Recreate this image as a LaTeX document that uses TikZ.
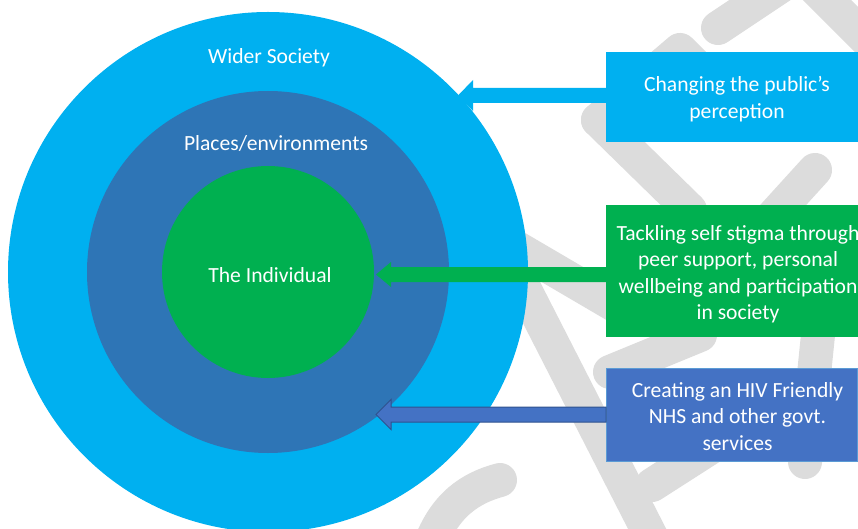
\documentclass[tikz,border=0pt]{standalone}
\usepackage{fontspec}
\setmainfont{Carlito}
\usetikzlibrary{calc}

\definecolor{skyfill}{HTML}{00B0F0}
\definecolor{placefill}{HTML}{2E75B6}
\definecolor{selffill}{HTML}{00B050}
\definecolor{nhsfill}{HTML}{4472C4}
\definecolor{nhsedge}{HTML}{2F528F}
\definecolor{nhsframe}{HTML}{5B9BD5}
\definecolor{wmgrey}{HTML}{DCDCDC}

% block arrow: tip coordinate, target box, half height of the head, style
\newcommand\blockarrow[4]{%
  \path[#4] (#1) -- ([xshift=15pt,yshift=#3]#1) -- ([xshift=15pt,yshift=7.5pt]#1)
    -- ([yshift=7.5pt]#1 -| #2.west) -- ([yshift=-7.5pt]#1 -| #2.west)
    -- ([xshift=15pt,yshift=-7.5pt]#1) -- ([xshift=15pt,yshift=-#3]#1) -- cycle;}

\begin{document}
\begin{tikzpicture}[x=1pt,y=-1pt,
  font=\fontsize{21.6}{26.5}\selectfont,
  wmstroke/.style={draw=wmgrey, line width=34pt, line cap=round, line join=round},
  ring/.style={circle, inner sep=0pt},
  lbl/.style={text=white, align=center, inner sep=0pt},
  goalbox/.style={inner sep=0pt, anchor=north west}]
\useasboundingbox (0,0) rectangle (858,529);
\clip (0,0) rectangle (858,529);

% faint background watermark strokes
\draw[wmstroke] (598,120) -- (680,50) -- (730,100);
\draw[wmstroke] (598,120) -- (690,210);
\draw[wmstroke] (790,-20) -- (718,28);
\draw[wmstroke] (815,-12) -- (875,48);
\draw[wmstroke] (815,170) -- (765,225);
\draw[wmstroke] (512,245) -- (640,320);
\draw[wmstroke] (520,280) -- (663,560);
\draw[wmstroke] (652,485) -- (730,435);
\draw[wmstroke] (430,545) .. controls (445,505) and (470,488) .. (500,480);
\draw[wmstroke] (818,335) -- (805,462);
\draw[wmstroke] (700,335) -- (610,372);

% concentric levels
\node[ring, fill=skyfill, minimum size=520pt] (society) at (268,272) {};
\node[ring, fill=placefill, minimum size=362pt] (places) at (268,272) {};
\node[ring, fill=selffill, minimum size=212pt] (self) at (268,272) {};

\node[lbl] (societylbl) at (269,58) {Wider Society};
\node[lbl] (placeslbl) at (276,143) {Places/environments};
\node[lbl] (selflbl) at (270,275) {The Individual};

% goal boxes (shapes only; text placed below)
\node[goalbox, fill=skyfill, minimum width=264pt, minimum height=90pt] (pubbox) at (606,52) {};
\node[goalbox, fill=selffill, minimum width=264pt, minimum height=132pt] (selfbox) at (606,205) {};
\node[goalbox, fill=nhsfill, draw=nhsframe, line width=1pt, minimum width=251pt, minimum height=93pt] (nhsbox) at (606,368) {};

% arrows from the boxes into the levels
\coordinate (pubtip) at (458,95.5);
\coordinate (selftip) at (376,274.5);
\coordinate (nhstip) at (376,414.5);
\blockarrow{pubtip}{pubbox}{15.5pt}{fill=skyfill}
\blockarrow{selftip}{selfbox}{12.5pt}{fill=selffill}
\blockarrow{nhstip}{nhsbox}{15pt}{fill=nhsfill, draw=nhsedge, line width=1pt}

\node[lbl] (pubtext) at (737,99) {Changing the public’s\\perception};
\node[lbl] (selftext) at (738,274) {Tackling self stigma through\\peer support, personal\\wellbeing and participation\\in society};
\node[lbl] (nhstext) at (737.5,416.5) {Creating an HIV Friendly\\NHS and other govt.\\services};
\end{tikzpicture}
\end{document}
